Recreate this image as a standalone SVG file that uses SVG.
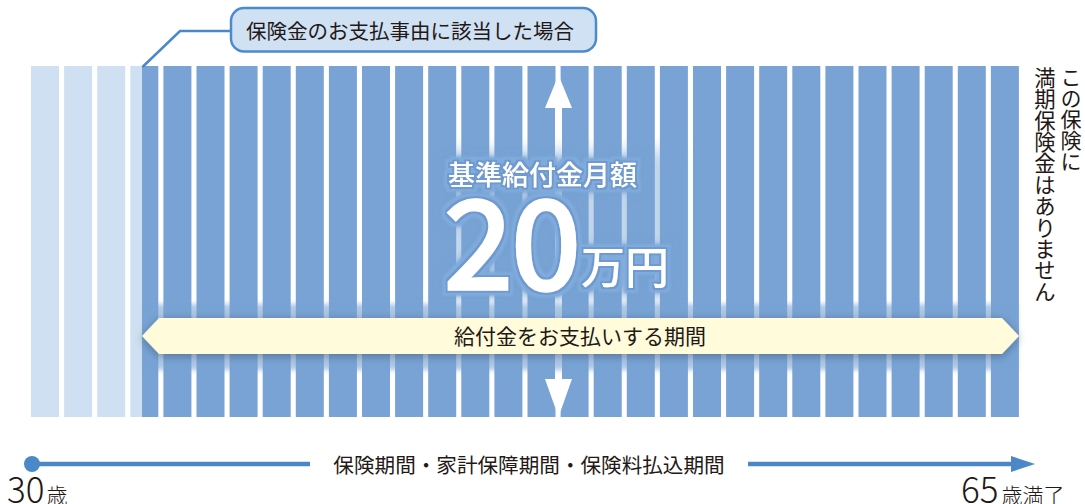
<svg xmlns="http://www.w3.org/2000/svg" width="1085" height="504" viewBox="0 0 1085 504">
<style>
.lt{fill:#cfe0f2}
.dk{fill:#78a3d4}
.jp{font-family:"Noto Sans CJK JP","Noto Sans",sans-serif;fill:#231815}
.wt{font-family:"Noto Sans CJK JP","Noto Sans",sans-serif;fill:#ffffff}
.blue{stroke:#4a88c8;fill:none}
.vt{writing-mode:vertical-rl}
</style>
<defs>
<filter id="halo" x="-20%" y="-30%" width="140%" height="160%">
<feMorphology in="SourceAlpha" operator="dilate" radius="5" result="d"/>
<feGaussianBlur in="d" stdDeviation="0.8" result="b"/>
<feFlood flood-color="#80abdc"/>
<feComposite in2="b" operator="in" result="h"/>
<feGaussianBlur in="d" stdDeviation="4" result="g"/>
<feFlood flood-color="#6f9bcf" flood-opacity="0.6"/>
<feComposite in2="g" operator="in" result="gg"/>
<feMorphology in="SourceAlpha" operator="dilate" radius="1.5" result="e"/>
<feFlood flood-color="#6e9ad0"/>
<feComposite in2="e" operator="in" result="edge"/>
<feMerge><feMergeNode in="gg"/><feMergeNode in="h"/><feMergeNode in="edge"/><feMergeNode in="SourceGraphic"/></feMerge>
</filter>
<filter id="soft" x="-20%" y="-30%" width="140%" height="160%">
<feGaussianBlur stdDeviation="8"/>
</filter>
<filter id="soft2" x="-5%" y="-30%" width="110%" height="160%">
<feGaussianBlur stdDeviation="2.5"/>
</filter>
<filter id="shadow" x="-5%" y="-50%" width="110%" height="200%">
<feDropShadow dx="0" dy="2" stdDeviation="5" flood-color="#000" flood-opacity="0.3"/>
</filter>
</defs>
<rect width="1085" height="504" fill="#ffffff"/>
<g id="bars">
<rect class="lt" x="31" y="66" width="28" height="351"/>
<rect class="lt" x="64.1" y="66" width="28" height="351"/>
<rect class="lt" x="97.2" y="66" width="28" height="351"/>
<rect class="lt" x="130.3" y="66" width="11.7" height="351"/>
<rect class="dk" x="142" y="66" width="16.3" height="351"/>
<rect class="dk" x="163.4" y="66" width="28" height="351"/>
<rect class="dk" x="196.5" y="66" width="28" height="351"/>
<rect class="dk" x="229.6" y="66" width="28" height="351"/>
<rect class="dk" x="262.7" y="66" width="28" height="351"/>
<rect class="dk" x="295.8" y="66" width="28" height="351"/>
<rect class="dk" x="328.9" y="66" width="28" height="351"/>
<rect class="dk" x="362" y="66" width="28" height="351"/>
<rect class="dk" x="395.1" y="66" width="28" height="351"/>
<rect class="dk" x="428.2" y="66" width="28" height="351"/>
<rect class="dk" x="461.3" y="66" width="28" height="351"/>
<rect class="dk" x="494.4" y="66" width="28" height="351"/>
<rect class="dk" x="527.5" y="66" width="28" height="351"/>
<rect class="dk" x="560.6" y="66" width="28" height="351"/>
<rect class="dk" x="593.7" y="66" width="28" height="351"/>
<rect class="dk" x="626.8" y="66" width="28" height="351"/>
<rect class="dk" x="659.9" y="66" width="28" height="351"/>
<rect class="dk" x="693" y="66" width="28" height="351"/>
<rect class="dk" x="726.1" y="66" width="28" height="351"/>
<rect class="dk" x="759.2" y="66" width="28" height="351"/>
<rect class="dk" x="792.3" y="66" width="28" height="351"/>
<rect class="dk" x="825.4" y="66" width="28" height="351"/>
<rect class="dk" x="858.5" y="66" width="28" height="351"/>
<rect class="dk" x="891.6" y="66" width="28" height="351"/>
<rect class="dk" x="924.7" y="66" width="28" height="351"/>
<rect class="dk" x="957.8" y="66" width="28" height="351"/>
<rect class="dk" x="990.9" y="66" width="28" height="351"/>
</g>
<g id="connectors">
<polyline class="blue" points="230,31 180,31 142.5,67" stroke-width="2.5"/>
<rect x="555" y="100" width="7" height="285" fill="#ffffff"/>
<polygon points="558.5,75 572,108 545,108" fill="#ffffff"/>
<polygon points="545,379 572,379 558.5,417" fill="#ffffff"/>
</g>
<g id="callout">
<rect x="231" y="8" width="365" height="43.5" rx="13" fill="#d0e1f3" stroke="#4b8bcb" stroke-width="2.5"/>
<text class="jp" x="246" y="38.8" font-size="20.5">保険金のお支払事由に該当した場合</text>
</g>
<g id="center-label">
<rect x="445" y="150" width="235" height="150" fill="#78a3d4" opacity="0.45" filter="url(#soft)"/>
<g filter="url(#halo)">
<text class="wt" x="448" y="185" font-size="27" font-weight="500">基準給付金月額</text>
<text class="wt" x="443" y="290" font-size="124" font-weight="500" letter-spacing="-3" stroke="#ffffff" stroke-width="1.5">20</text>
<text class="wt" x="581" y="284" font-size="44" font-weight="500">万円</text>
</g>
</g>
<g id="band">
<rect x="145" y="304" width="872" height="66" fill="#78a3d4" opacity="0.6" filter="url(#soft2)"/>
<polygon points="142,336 159,318 1002,318 1019,336 1002,354 159,354" fill="#fffbdb" filter="url(#shadow)"/>
<text class="jp" x="580" y="344" font-size="21" text-anchor="middle">給付金をお支払いする期間</text>
</g>
<g id="note">
<text class="jp vt" x="1071" y="67" font-size="21" writing-mode="vertical-rl">この保険に</text>
<text class="jp vt" x="1045" y="67" font-size="21.4" writing-mode="vertical-rl">満期保険金はありません</text>
</g>
<g id="timeline">
<line class="blue" x1="32" y1="464" x2="310" y2="464" stroke-width="4.5"/>
<circle cx="32" cy="464" r="8" fill="#4a88c8"/>
<line class="blue" x1="748" y1="464" x2="1013" y2="464" stroke-width="4.5"/>
<polygon points="1011,456 1035,464 1011,472" fill="#4a88c8"/>
<text class="jp" x="529" y="472.6" font-size="20.6" text-anchor="middle">保険期間・家計保障期間・保険料払込期間</text>
<text class="jp" x="7" y="503" font-weight="300"><tspan font-size="35">30</tspan><tspan font-size="21" dx="2">歳</tspan></text>
<text class="jp" x="961" y="503" font-weight="300"><tspan font-size="35">65</tspan><tspan font-size="21" dx="3">歳満了</tspan></text>
</g>
</svg>
